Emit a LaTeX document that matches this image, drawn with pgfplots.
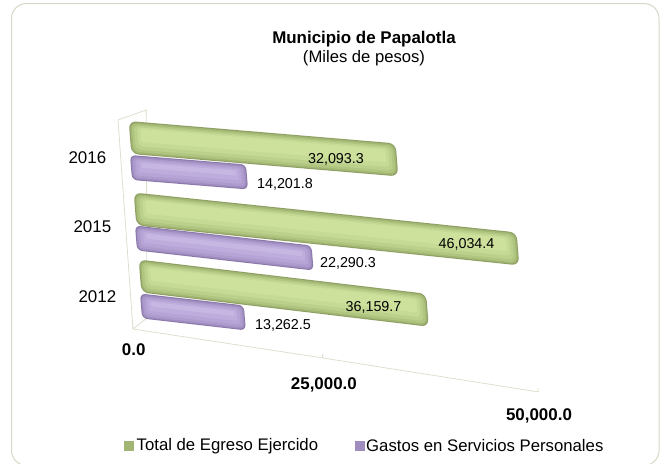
\documentclass[border=0pt]{standalone}
\usepackage{fontspec}
\setmainfont{Liberation Sans}
\usepackage{pgfplots}
\pgfplotsset{compat=1.18}

\definecolor{frameline}{HTML}{D6D8C6}
\definecolor{axisline}{HTML}{DDDFCE}
\definecolor{greenA}{HTML}{8E9F63}
\definecolor{greenB}{HTML}{A2B573}
\definecolor{greenC}{HTML}{B0C580}
\definecolor{greenD}{HTML}{BBD08B}
\definecolor{greenE}{HTML}{C5DA94}
\definecolor{greenF}{HTML}{CDE19C}
\definecolor{purpleA}{HTML}{8B78AB}
\definecolor{purpleB}{HTML}{A08DC0}
\definecolor{purpleC}{HTML}{AE9BCE}
\definecolor{purpleD}{HTML}{B6A4D6}
\definecolor{purpleE}{HTML}{BDACDC}
\definecolor{purpleF}{HTML}{C5B6E2}

% five points of a quarter circle round a corner of a tube: centre x, y, first angle
\newcommand{\arcpts}[3]{%
  (\fpeval{#1+\rx*cosd(#3)},\fpeval{#2+\ry*sind(#3)})
  (\fpeval{#1+\rx*cosd(#3+22.5)},\fpeval{#2+\ry*sind(#3+22.5)})
  (\fpeval{#1+\rx*cosd(#3+45)},\fpeval{#2+\ry*sind(#3+45)})
  (\fpeval{#1+\rx*cosd(#3+67.5)},\fpeval{#2+\ry*sind(#3+67.5)})
  (\fpeval{#1+\rx*cosd(#3+90)},\fpeval{#2+\ry*sind(#3+90)})
}
% one layer of a tube: height, offset, inset (px), colour, value
\newcommand{\layer}[5]{%
  \edef\ry{\fpeval{(#1)*0.22}}%
  \edef\rx{\fpeval{\ry*120}}%
  \edef\xa{\fpeval{#3*120+\rx}}%
  \edef\xb{\fpeval{#5-#3*120-\rx}}%
  \edef\ya{\fpeval{#2-(#1)/2+\ry}}%
  \edef\yb{\fpeval{#2+(#1)/2-\ry}}%
  \edef\doit{\noexpand\addplot[draw=none, fill=#4] coordinates {%
    \arcpts{\xb}{\ya}{-90} \arcpts{\xb}{\yb}{0}
    \arcpts{\xa}{\yb}{90} \arcpts{\xa}{\ya}{180}} --cycle;}%
  \doit
}
% one bar in its own axis: x, y of start (px), x and y unit vector, value, height, colour name
\newcommand{\tube}[7]{%
  \begin{axis}[
    at={(#1bp,-#2bp)}, anchor=origin,
    hide axis, clip=false,
    x={(#3bp,#4bp)}, y={(-0.08bp,1bp)},
    xmin=0, xmax=60000, ymin=-20, ymax=20,
  ]
  \layer{#6}{0}{0}{#7A}{#5}
  \layer{#6-2}{0}{1}{#7B}{#5}
  \layer{#6-5}{0}{2.5}{#7C}{#5}
  \layer{#6-9}{0.5}{5}{#7D}{#5}
  \layer{#6-14}{1.5}{8}{#7E}{#5}
  \layer{#6-20}{3}{11}{#7F}{#5}
  \end{axis}%
}

\begin{document}
\begin{tikzpicture}
\path[use as bounding box] (0bp,0bp) rectangle (660bp,-464bp);
\draw[frameline, line width=1bp, rounded corners=15bp] (11.5bp,-3.5bp) rectangle (659bp,-465.5bp);

% walls and first half of the floor, with the axis numbers
\begin{axis}[
  at={(133bp,-329bp)}, anchor=origin,
  x={(0.0076bp,-0.00116bp)}, y={(-5bp,69.67bp)},
  xmin=0, xmax=25000, ymin=0, ymax=3,
  axis lines*=left, clip=false,
  axis line style={axisline, line width=0.8bp, -},
  xtick={0,25000},
  xticklabels={0.0,},
  ytick={0.5,1.5,2.5},
  yticklabels={2012,2015,2016},
  minor ytick={0,1,2,3},
  tick style={axisline, line width=0.8bp},
  major tick length=4bp, minor tick length=4bp,
  ytick style={draw=none},
  yminorticks=true,
  xticklabel style={font=\fontsize{17}{17}\bfseries\selectfont, text=black, yshift=-11bp},
  yticklabel style={font=\fontsize{17}{17}\selectfont, text=black, xshift=-10.5bp, yshift=-6bp},
  scaled x ticks=false,
]
\addplot[axisline, line width=0.8bp] coordinates {(0,0) (1980,0.191)};
\addplot[axisline, line width=0.8bp] coordinates {(0,3) (3846,3.207) (1980,0.191)};
\end{axis}

% second half of the floor, seen nearer
\begin{axis}[
  at={(323bp,-358bp)}, anchor=origin,
  x={(0.0086bp,-0.00136bp)}, y={(-5bp,69.67bp)},
  xmin=25000, xmax=50000, ymin=0, ymax=1,
  axis x line*=bottom, axis y line=none, clip=false,
  axis line style={axisline, line width=0.8bp, -},
  xtick={25000,50000},
  xticklabels={{\rule{0pt}{15bp}25,000.0},{50,000.0}},
  tick style={axisline, line width=0.8bp},
  major tick length=4bp,
  xticklabel style={font=\fontsize{17}{17}\bfseries\selectfont, text=black, yshift=-13bp},
  scaled x ticks=false,
]
\addplot[draw=none] coordinates {(25000,0) (50000,0)};
\end{axis}

\tube{131}{167.5}{0.008168}{-0.000675}{14201.8}{25}{purple}
\tube{130}{137.5}{0.00832}{-0.0007}{32093.3}{33}{green}
\tube{135}{209}{0.00832}{-0.00087}{46034.4}{33}{green}
\tube{136}{238}{0.00794}{-0.0009}{22290.3}{25}{purple}
\tube{141}{306}{0.00784}{-0.0009}{13262.5}{25}{purple}
\tube{140}{276}{0.007965}{-0.00094}{36159.7}{33}{green}

% value labels
\begin{scope}[every node/.style={font=\fontsize{14.4}{14}\selectfont, inner sep=0pt}]
\node at (336bp,-159bp) {32,093.3};
\node at (285bp,-184bp) {14,201.8};
\node at (466.5bp,-244bp) {46,034.4};
\node at (348bp,-263bp) {22,290.3};
\node at (373.5bp,-307bp) {36,159.7};
\node at (283bp,-325bp) {13,262.5};
\end{scope}

% titles
\node[font=\fontsize{17}{17}\bfseries\selectfont] at (364bp,-39bp) {Municipio de Papalotla};
\node[font=\fontsize{16.7}{17}\selectfont] at (364bp,-58bp) {(Miles de pesos)};

% legend
\fill[greenB] (124bp,-441bp) rectangle (134bp,-451bp);
\fill[purpleB] (355bp,-441bp) rectangle (365bp,-451bp);
\node[font=\fontsize{16.8}{17}\selectfont, anchor=west, inner sep=0pt] at (136.5bp,-446bp) {Total de Egreso Ejercido};
\node[font=\fontsize{16.8}{17}\selectfont, anchor=west, inner sep=0pt] at (366bp,-446bp) {Gastos en Servicios Personales};
\end{tikzpicture}
\end{document}
